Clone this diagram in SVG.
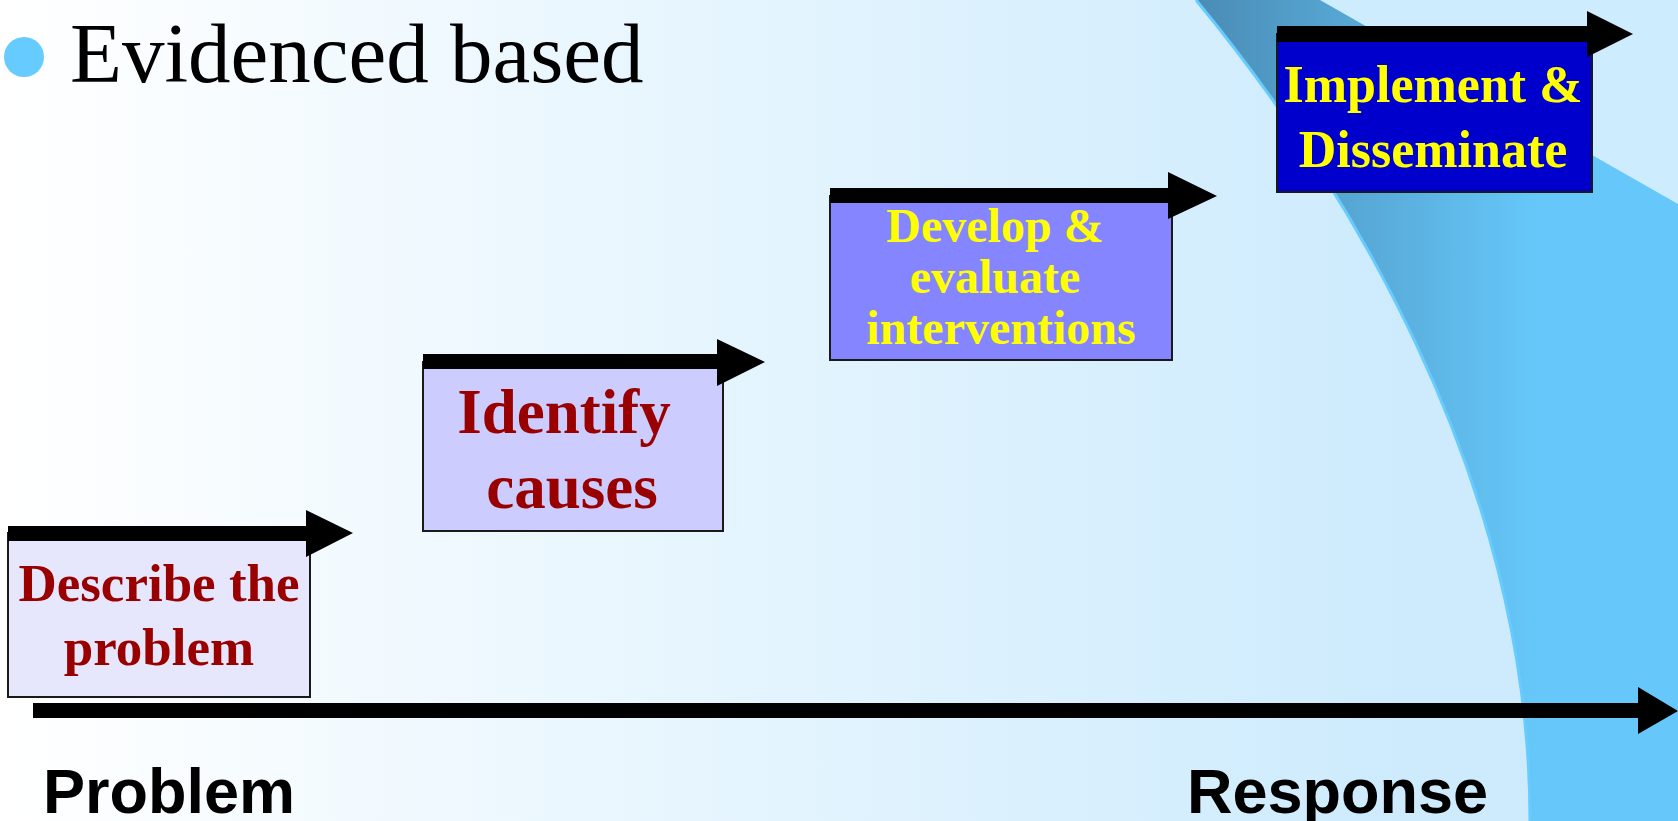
<svg xmlns="http://www.w3.org/2000/svg" width="1678" height="821" viewBox="0 0 1678 821">
  <defs>
    <linearGradient id="bgGrad" x1="0" y1="0" x2="1400" y2="0" gradientUnits="userSpaceOnUse">
      <stop offset="0" stop-color="#ffffff"/>
      <stop offset="1" stop-color="#cdebfd"/>
    </linearGradient>
    <linearGradient id="bandGrad" x1="1195" y1="0" x2="1540" y2="0" gradientUnits="userSpaceOnUse">
      <stop offset="0" stop-color="#4a8cb6"/>
      <stop offset="1" stop-color="#66c8fa"/>
    </linearGradient>
    <style>
      .box { stroke: #1a1a1a; stroke-width: 2; }
      .bar { fill: #000000; }
      .serif { font-family: "Liberation Serif", "Times New Roman", serif; font-weight: bold; text-anchor: middle; }
      .red { fill: #990000; }
      .yellow { fill: #ffff00; }
      .axisLabel { font-family: "Liberation Sans", Arial, sans-serif; font-weight: bold; font-size: 63px; fill: #000000; }
    </style>
  </defs>

  <!-- backdrop -->
  <rect x="0" y="0" width="1678" height="821" fill="url(#bgGrad)"/>
  <path d="M1196,0 C1336,170 1530,470 1530,821 L1678,821 L1678,0 Z" fill="url(#bandGrad)"/>
  <path d="M1196,0 C1336,170 1530,470 1530,821" fill="none" stroke="#66ccff" stroke-width="3"/>
  <polygon points="1320,0 1678,0 1678,204" fill="#cdecfd"/>

  <!-- title -->
  <g id="title">
    <circle cx="24" cy="57" r="20" fill="#66ccff"/>
    <text x="70" y="82" font-family="'Liberation Serif', 'Times New Roman', serif" font-size="85" fill="#000000">Evidenced based</text>
  </g>

  <!-- step 1 -->
  <g id="describe">
    <rect class="box" x="8" y="533" width="302" height="164" fill="#e6e6fd"/>
    <polygon class="bar" points="8,526 306,526 306,510 353,533 306,557 306,541 8,541"/>
    <text class="serif red" x="159" y="601" font-size="53">Describe the</text>
    <text class="serif red" x="159" y="665" font-size="53">problem</text>
  </g>

  <!-- step 2 -->
  <g id="identify">
    <rect class="box" x="423" y="362" width="300" height="169" fill="#ccccff"/>
    <polygon class="bar" points="423,354 717,354 717,339 765,362 717,386 717,369 423,369"/>
    <text class="serif red" x="564" y="433" font-size="63">Identify</text>
    <text class="serif red" x="572" y="508" font-size="63">causes</text>
  </g>

  <!-- step 3 -->
  <g id="develop">
    <rect class="box" x="830" y="196" width="342" height="164" fill="#8585ff"/>
    <polygon class="bar" points="830,188 1168,188 1168,172 1217,196 1168,219 1168,203 830,203"/>
    <text class="serif yellow" x="995" y="242" font-size="48">Develop &amp;</text>
    <text class="serif yellow" x="995" y="293" font-size="48">evaluate</text>
    <text class="serif yellow" x="1001" y="344" font-size="48">interventions</text>
  </g>

  <!-- step 4 -->
  <g id="implement">
    <rect class="box" x="1277" y="34" width="315" height="158" fill="#0000cc"/>
    <polygon class="bar" points="1277,26 1587,26 1587,11 1633,34 1587,57 1587,42 1277,42"/>
    <text class="serif yellow" x="1433" y="102" font-size="52">Implement &amp;</text>
    <text class="serif yellow" x="1433" y="167" font-size="52">Disseminate</text>
  </g>

  <!-- problem-to-response axis -->
  <g id="connectors">
    <polygon class="bar" points="33,703 1638,703 1638,687 1678,711 1638,734 1638,718 33,718"/>
  </g>

  <g id="axis-labels">
    <text class="axisLabel" x="43" y="813">Problem</text>
    <text class="axisLabel" x="1187" y="813">Response</text>
  </g>
</svg>
